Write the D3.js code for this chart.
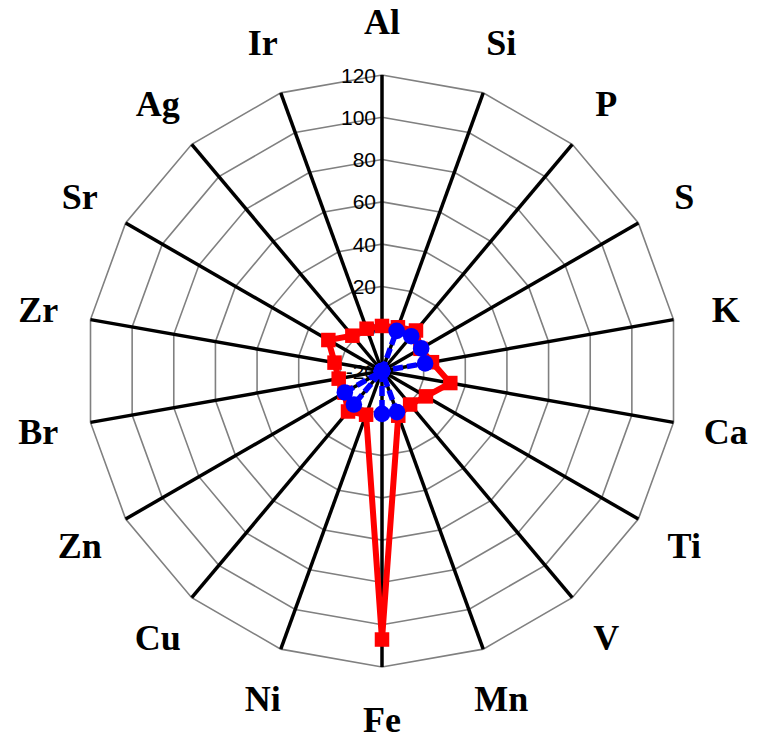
<!DOCTYPE html>
<html>
<head>
<meta charset="utf-8">
<script src="https://cdn.jsdelivr.net/npm/d3@7/dist/d3.min.js"></script>
<style>
  html, body { margin: 0; padding: 0; background: #fff; }
  svg { display: block; }
</style>
</head>
<body>
<div id="chart"></div>
<script>
// Elements around the radar, clockwise from the top
const elements = ["Al", "Si", "P", "S", "K", "Ca", "Ti", "V", "Mn", "Fe",
                  "Ni", "Cu", "Zn", "Br", "Zr", "Sr", "Ag", "Ir"];

// Series values per element
const redValues  = [1.3, 2, 5, 1, 4, 12.8, 4, 0.7, 2.5, 107,
                    2, 5, 0.5, 0.8, 2.8, 9.3, 1.8, 1.3];
const blueValues = [-20, 0.2, 1.5, 1.4, 0.7, -20, -20, -20, 0.7, 0.3,
                    -20, 0.7, 0.3, -20, -20, -20, -20, -20];

// Radial axis ticks
const ringTicks  = [0, 20, 40, 60, 80, 100, 120];
const labelTicks = [-20, 0, 20, 40, 60, 80, 100, 120];

const W = 760, H = 737;
const cx = 382, cy = 371;
const R = 296;

const svg = d3.select("#chart").append("svg")
  .attr("width", W).attr("height", H)
  .style("background", "#fff");

const g = svg.append("g").attr("transform", `translate(${cx},${cy})`);

const r = d3.scaleLinear().domain([-20, 120]).range([0, R]);
const angle = d3.scalePoint().domain(elements).range([0, 2 * Math.PI * (elements.length - 1) / elements.length]);

const px = (a, rad) => rad * Math.sin(a);
const py = (a, rad) => -rad * Math.cos(a);

// Polygon grid rings
const ringLine = d3.lineRadial()
  .angle(d => angle(d))
  .curve(d3.curveLinearClosed);

g.append("g").selectAll("path")
  .data(ringTicks)
  .join("path")
  .attr("d", t => ringLine.radius(() => r(t))(elements))
  .attr("fill", "none")
  .attr("stroke", "#808080")
  .attr("stroke-width", 1.6);

// Spokes
g.append("g").selectAll("line")
  .data(elements)
  .join("line")
  .attr("x1", 0).attr("y1", 0)
  .attr("x2", d => px(angle(d), r(120)))
  .attr("y2", d => py(angle(d), r(120)))
  .attr("stroke", "#000")
  .attr("stroke-width", 3.5);

// Radial tick labels along the top spoke
g.append("g").selectAll("text")
  .data(labelTicks)
  .join("text")
  .attr("x", -6)
  .attr("y", t => -r(t))
  .attr("dy", "0.36em")
  .attr("text-anchor", "end")
  .attr("font-family", "'Liberation Sans', Arial, sans-serif")
  .attr("font-size", 21)
  .attr("fill", "#000")
  .text(t => t);

// Element labels
const labelR = 349;
g.append("g").selectAll("text")
  .data(elements)
  .join("text")
  .attr("x", d => px(angle(d), labelR))
  .attr("y", d => py(angle(d), labelR))
  .attr("dy", 12)
  .attr("text-anchor", "middle")
  .attr("font-family", "'Liberation Serif', 'Times New Roman', serif")
  .attr("font-weight", "bold")
  .attr("font-size", 36)
  .attr("fill", "#000")
  .text(d => d);

// Series lines
const seriesLine = d3.lineRadial()
  .angle((d, i) => angle(elements[i]))
  .radius(d => r(d))
  .curve(d3.curveLinearClosed);

// Red series
g.append("path")
  .attr("d", seriesLine(redValues))
  .attr("fill", "none")
  .attr("stroke", "#ff0000")
  .attr("stroke-width", 6)
  .attr("stroke-linejoin", "miter");

const sq = 14.5;
g.append("g").selectAll("rect")
  .data(redValues)
  .join("rect")
  .attr("x", (d, i) => px(angle(elements[i]), r(d)) - sq / 2)
  .attr("y", (d, i) => py(angle(elements[i]), r(d)) - sq / 2)
  .attr("width", sq).attr("height", sq)
  .attr("fill", "#ff0000");

// Blue series
g.append("path")
  .attr("d", seriesLine(blueValues))
  .attr("fill", "none")
  .attr("stroke", "#0000ff")
  .attr("stroke-width", 5.5)
  .attr("stroke-dasharray", "10,4");

g.append("g").selectAll("circle")
  .data(blueValues)
  .join("circle")
  .attr("cx", (d, i) => px(angle(elements[i]), r(d)))
  .attr("cy", (d, i) => py(angle(elements[i]), r(d)))
  .attr("r", 8.3)
  .attr("fill", "#0000ff");
</script>
</body>
</html>
